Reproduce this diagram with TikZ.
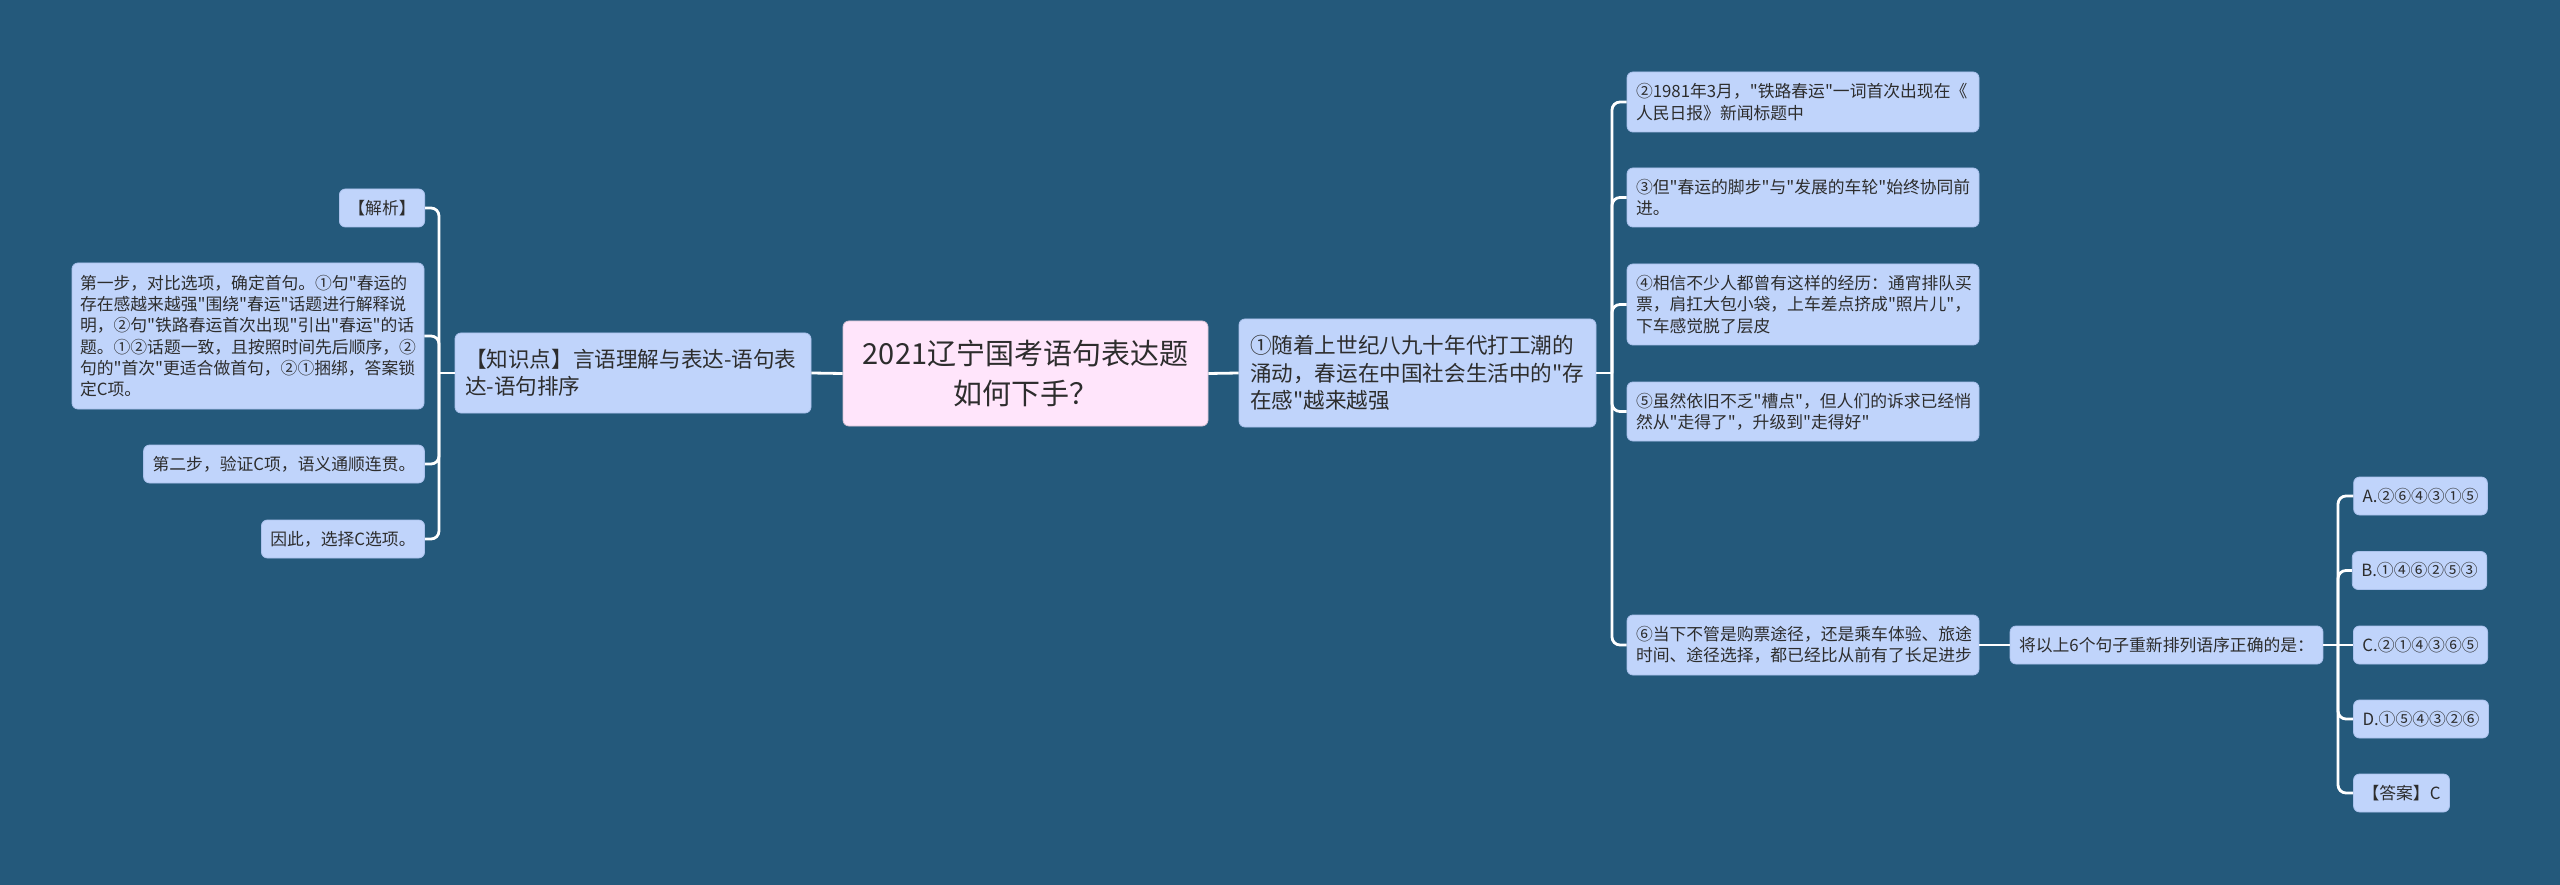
\documentclass[tikz,border=0pt]{standalone}
\usepackage{fontspec}
\newfontfamily\cjk{Noto Sans CJK SC}
\definecolor{bg}{RGB}{36,89,123}
\definecolor{boxfill}{RGB}{192,212,251}
\definecolor{rootfill}{RGB}{255,229,251}
\definecolor{txt}{RGB}{45,45,45}
\definecolor{boxline}{RGB}{170,193,236}
\begin{document}
\begin{tikzpicture}[x=1pt,y=-1pt,
  base/.style={rounded corners=6, fill=boxfill, draw=boxline, line width=0.8, text=txt, inner ysep=0},
  sm/.style={base, font=\cjk\fontsize{16.8}{21.3}\selectfont, inner xsep=9},
  lvone/.style={base, font=\cjk\fontsize{21.6}{27.5}\selectfont, inner xsep=10},
  rootbox/.style={base, fill=rootfill, draw=rootfill!85!black, font=\cjk\fontsize{29}{40}\selectfont},
  conn/.style={draw=white, line width=2.8, rounded corners=8}]
\useasboundingbox (0,0) rectangle (2560,885);
\fill[bg] (0,0) rectangle (2560,885);

% root and level one
\node[rootbox, minimum height=105, text width=345, inner xsep=10, align=center] (root) at (1025.5,373.5) {2021辽宁国考语句表达题\\如何下手？};
\node[lvone, minimum height=80, text width=336, align=left] (kp) at (633,373) {【知识点】言语理解与表达-语句表\\达-语句排序};
\node[lvone, minimum height=108, text width=335, inner xsep=11, align=left] (l1) at (1417.5,373) {①随着上世纪八九十年代打工潮的\\涌动，春运在中国社会生活中的"存\\在感"越来越强};

% left children
\node[sm, minimum width=84, minimum height=38] (jx) at (382,208) {【解析】};
\node[sm, minimum height=146, text width=336, inner xsep=8, align=left] (big) at (248,336) {第一步，对比选项，确定首句。①句"春运的\\存在感越来越强"围绕"春运"话题进行解释说\\明，②句"铁路春运首次出现"引出"春运"的话\\题。①②话题一致，且按照时间先后顺序，②\\句的"首次"更适合做首句，②①捆绑，答案锁\\定C项。};
\node[sm, minimum width=280, minimum height=38] (s2) at (284,464) {第二步，验证C项，语义通顺连贯。};
\node[sm, minimum width=162, minimum height=38] (s3) at (343,539) {因此，选择C选项。};

% right children
\node[sm, minimum height=60, text width=334, align=left] (r2) at (1803,102) {②1981年3月，"铁路春运"一词首次出现在《\\人民日报》新闻标题中};
\node[sm, minimum height=59, text width=334, align=left] (r3) at (1803,197.5) {③但"春运的脚步"与"发展的车轮"始终协同前\\进。};
\node[sm, minimum height=81, text width=334, align=left] (r4) at (1803,304.5) {④相信不少人都曾有这样的经历：通宵排队买\\票，肩扛大包小袋，上车差点挤成"照片儿"，\\下车感觉脱了层皮};
\node[sm, minimum height=59, text width=334, align=left] (r5) at (1803,411.5) {⑤虽然依旧不乏"槽点"，但人们的诉求已经悄\\然从"走得了"，升级到"走得好"};
\node[sm, minimum height=60, text width=334, align=left] (r6) at (1803,645) {⑥当下不管是购票途径，还是乘车体验、旅途\\时间、途径选择，都已经比从前有了长足进步};

% question and options
\node[sm, minimum width=311, minimum height=38] (q) at (2166.5,645) {将以上6个句子重新排列语序正确的是：};
\node[sm, minimum width=133, minimum height=38] (A) at (2420.5,496) {A.②⑥④③①⑤};
\node[sm, minimum width=131, minimum height=38] (B) at (2419.5,570.5) {B.①④⑥②⑤③};
\node[sm, minimum width=133, minimum height=38] (C) at (2420.5,645) {C.②①④③⑥⑤};
\node[sm, minimum width=134, minimum height=38] (D) at (2421,719) {D.①⑤④③②⑥};
\node[sm, minimum width=95, minimum height=38] (ans) at (2401.5,793) {【答案】C};

% connectors
\draw[conn] (root.west) -- (kp.east);
\draw[conn] (root.east) -- (l1.west);
\coordinate (lt) at (439,373);
\draw[conn] (kp.west) -- (lt);
\foreach \c in {jx,big,s2,s3} \draw[conn] (lt) |- (\c.east);
\coordinate (rt) at (1612,373);
\draw[conn] (l1.east) -- (rt);
\foreach \c in {r2,r3,r4,r5,r6} \draw[conn] (rt) |- (\c.west);
\draw[conn] (r6.east) -- (q.west);
\coordinate (qt) at (2338,645);
\draw[conn] (q.east) -- (C.west);
\foreach \c in {A,B,D,ans} \draw[conn] (qt) |- (\c.west);
\end{tikzpicture}
\end{document}
